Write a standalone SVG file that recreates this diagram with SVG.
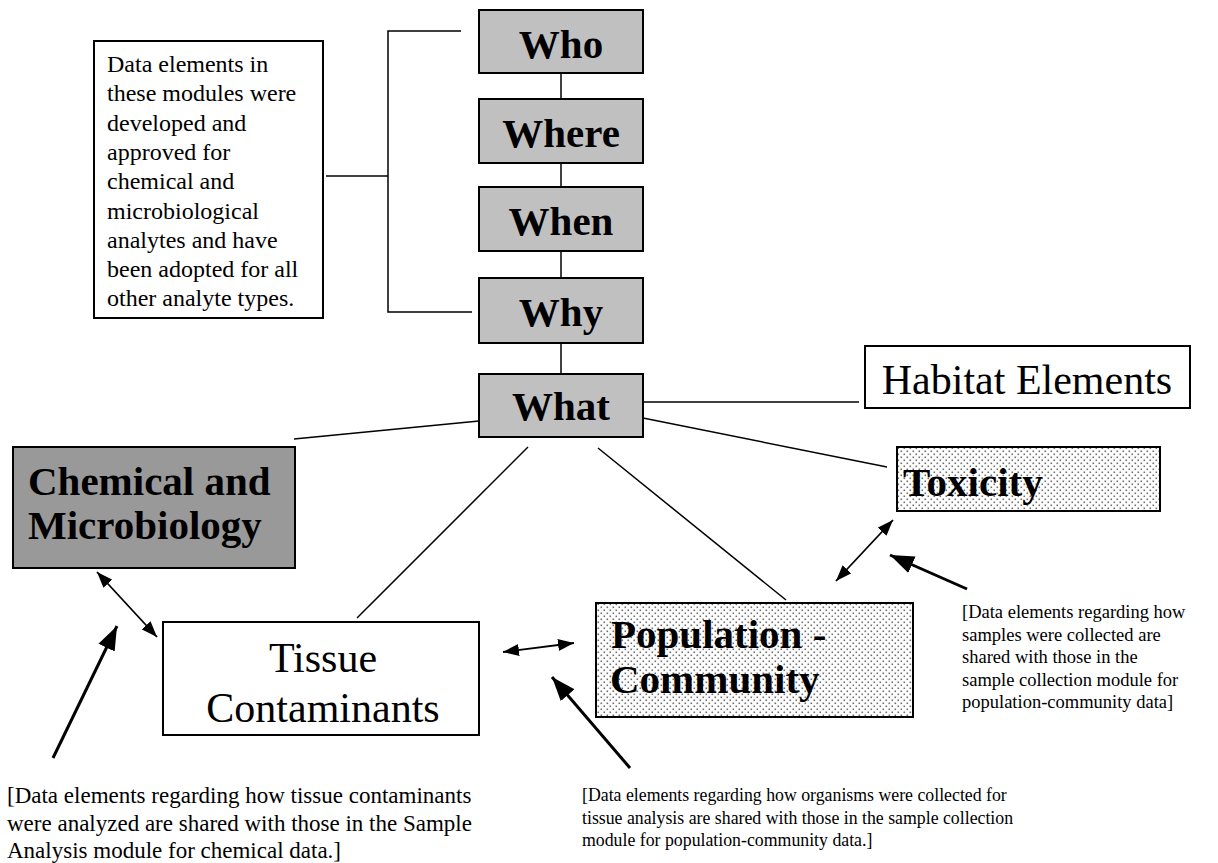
<svg xmlns="http://www.w3.org/2000/svg" width="1218" height="863" viewBox="0 0 1218 863">
<defs>
<style>
.box{stroke:#000;stroke-width:2}
.gray{fill:#c0c0c0}
.dark{fill:#999999}
.white{fill:#fff}
.bold{font-family:"Liberation Serif","Times New Roman",serif;font-weight:bold;font-size:41px;fill:#000}
.reg{font-family:"Liberation Serif","Times New Roman",serif;fill:#000}
.ln{stroke:#000;stroke-width:1.5;fill:none}
.thin{stroke:#000;stroke-width:1.8;fill:none}
.thick{stroke:#000;stroke-width:3;fill:none}
</style>
<pattern id="dots" width="6" height="6" patternUnits="userSpaceOnUse">
<rect width="6" height="6" fill="#fff"/>
<rect x="0.5" y="0.5" width="1.6" height="1.6" fill="#707070"/>
<rect x="3.5" y="3.5" width="1.6" height="1.6" fill="#707070"/>
</pattern>
<marker id="hs" viewBox="0 0 16 12" refX="16" refY="6" markerWidth="16" markerHeight="12" markerUnits="userSpaceOnUse" orient="auto-start-reverse">
<path d="M0,0 L16,6 L0,12 Z" fill="#000"/>
</marker>
<marker id="hb" viewBox="0 0 24 18" refX="24" refY="9" markerWidth="24" markerHeight="18" markerUnits="userSpaceOnUse" orient="auto">
<path d="M0,0 L24,9 L0,18 Z" fill="#000"/>
</marker>
</defs>
<rect width="1218" height="863" fill="#fff"/>

<g id="connectors">
<polyline class="ln" points="461,31 388,31 388,312 472,312"/>
<line class="ln" x1="326" y1="176" x2="388" y2="176"/>
<line class="ln" x1="561" y1="73" x2="561" y2="99"/>
<line class="ln" x1="561" y1="163" x2="561" y2="187"/>
<line class="ln" x1="561" y1="251" x2="561" y2="278"/>
<line class="ln" x1="561" y1="343" x2="561" y2="374"/>
<line class="ln" x1="643" y1="402" x2="859" y2="402"/>
<line class="ln" x1="479" y1="421" x2="294" y2="439"/>
<line class="ln" x1="643" y1="418" x2="887" y2="467"/>
<line class="ln" x1="528" y1="447" x2="357" y2="618"/>
<line class="ln" x1="598" y1="448" x2="786" y2="600"/>
<line class="thin" x1="97" y1="572" x2="157" y2="637" marker-start="url(#hs)" marker-end="url(#hs)"/>
<line class="thin" x1="503" y1="652" x2="574" y2="643" marker-start="url(#hs)" marker-end="url(#hs)"/>
<line class="thin" x1="893" y1="520" x2="836" y2="581" marker-start="url(#hs)" marker-end="url(#hs)"/>
<line class="thick" x1="53" y1="758" x2="117" y2="626" marker-end="url(#hb)"/>
<line class="thick" x1="630" y1="768" x2="552" y2="677" marker-end="url(#hb)"/>
<line class="thick" x1="967" y1="589" x2="890" y2="555" marker-end="url(#hb)"/>
</g>

<g id="note">
<rect class="box white" x="94" y="41" width="229" height="277" stroke-width="1.5"/>
<text class="reg" font-size="24">
<tspan x="107" y="72">Data elements in</tspan>
<tspan x="107" y="101.3">these modules were</tspan>
<tspan x="107" y="130.6">developed and</tspan>
<tspan x="107" y="159.9">approved for</tspan>
<tspan x="107" y="189.2">chemical and</tspan>
<tspan x="107" y="218.5">microbiological</tspan>
<tspan x="107" y="247.8">analytes and have</tspan>
<tspan x="107" y="277.1">been adopted for all</tspan>
<tspan x="107" y="306.4">other analyte types.</tspan>
</text>
</g>

<g id="who">
<rect class="box gray" x="479" y="10" width="164" height="63"/>
<text class="bold" x="561" y="58" text-anchor="middle">Who</text>
</g>
<g id="where">
<rect class="box gray" x="479" y="99" width="164" height="64"/>
<text class="bold" x="561" y="147" text-anchor="middle">Where</text>
</g>
<g id="when">
<rect class="box gray" x="479" y="187" width="164" height="64"/>
<text class="bold" x="561" y="235" text-anchor="middle">When</text>
</g>
<g id="why">
<rect class="box gray" x="479" y="278" width="164" height="65"/>
<text class="bold" x="561" y="326" text-anchor="middle">Why</text>
</g>
<g id="what">
<rect class="box gray" x="479" y="374" width="164" height="63"/>
<text class="bold" x="561" y="420" text-anchor="middle">What</text>
</g>

<g id="habitat">
<rect class="box white" x="865" y="346" width="325" height="62" stroke-width="1.5"/>
<text class="reg" font-size="42" x="1027" y="394" text-anchor="middle">Habitat Elements</text>
</g>

<g id="chemical">
<rect class="box dark" x="13" y="447" width="282" height="121"/>
<text class="bold" font-size="43" x="28" y="495">Chemical and</text>
<text class="bold" font-size="43" x="28" y="539">Microbiology</text>
</g>

<g id="toxicity">
<rect class="box" fill="url(#dots)" x="897" y="447" width="263" height="64"/>
<text class="bold" x="903" y="496">Toxicity</text>
</g>

<g id="tissue">
<rect class="box white" x="163" y="622" width="316" height="113" stroke-width="1.5"/>
<text class="reg" font-size="42" x="323" y="672" text-anchor="middle">Tissue</text>
<text class="reg" font-size="42" x="323" y="722" text-anchor="middle">Contaminants</text>
</g>

<g id="population">
<rect class="box" fill="url(#dots)" x="596" y="603" width="317" height="114"/>
<text class="bold" x="611" y="648">Population -</text>
<text class="bold" x="610" y="693">Community</text>
</g>

<g id="annotations">
<text class="reg" font-size="18.5">
<tspan x="962" y="618">[Data elements regarding how</tspan>
<tspan x="962" y="640.5">samples were collected are</tspan>
<tspan x="962" y="663">shared with those in the</tspan>
<tspan x="962" y="685.5">sample collection module for</tspan>
<tspan x="962" y="708">population-community data]</tspan>
</text>
<text class="reg" font-size="17.8">
<tspan x="582" y="801">[Data elements regarding how organisms were collected for</tspan>
<tspan x="582" y="823.5">tissue analysis are shared with those in the sample collection</tspan>
<tspan x="582" y="846">module for population-community data.]</tspan>
</text>
<text class="reg" font-size="23">
<tspan x="7" y="803">[Data elements regarding how tissue contaminants</tspan>
<tspan x="7" y="830.5">were analyzed are shared with those in the Sample</tspan>
<tspan x="7" y="858">Analysis module for chemical data.]</tspan>
</text>
</g>
</svg>
